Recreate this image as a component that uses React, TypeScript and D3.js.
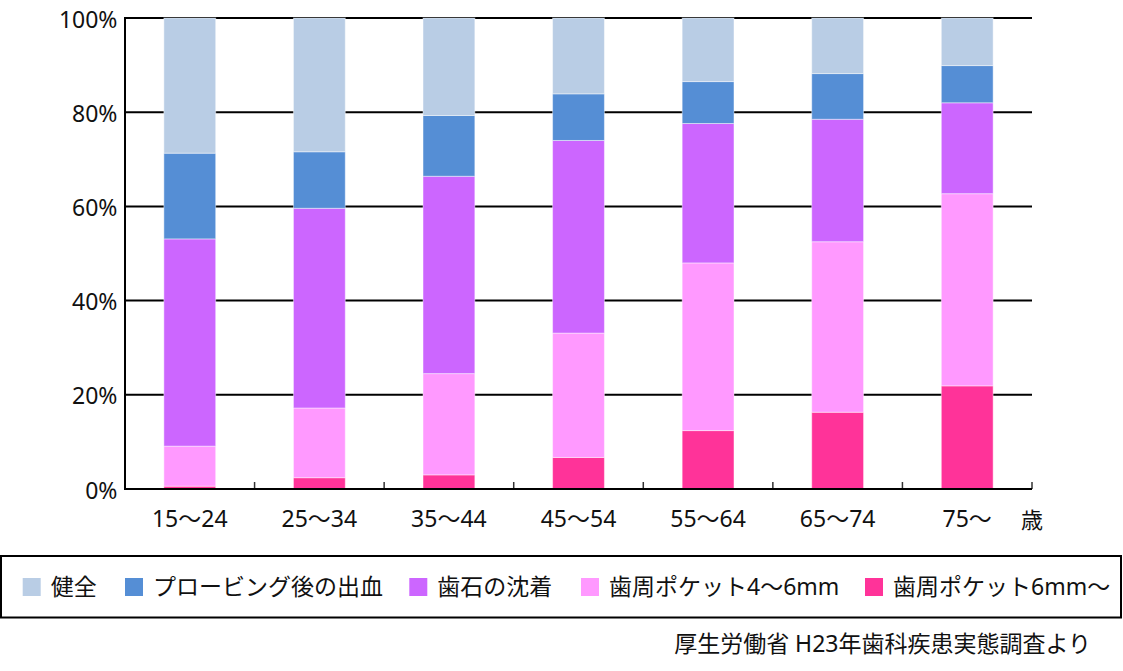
import React from "react";
import * as d3 from "d3";

const categories = ["15～24", "25～34", "35～44", "45～54", "55～64", "65～74", "75～"];
const seriesNames = ["歯周ポケット6mm～", "歯周ポケット4～6mm", "歯石の沈着", "プロービング後の出血", "健全"];
const pocket6 = [0.6, 2.4, 3.0, 6.7, 12.4, 16.3, 21.9];
const pocket4to6 = [8.5, 14.8, 21.5, 26.4, 35.6, 36.2, 40.8];
const calculus = [44.0, 42.4, 41.9, 40.9, 29.6, 26.0, 19.3];
const bleeding = [18.2, 12.0, 12.9, 9.9, 8.9, 9.7, 7.9];
const healthy = [28.7, 28.4, 20.7, 16.1, 13.5, 11.8, 10.1];
const seriesValues = [pocket6, pocket4to6, calculus, bleeding, healthy];
const seriesColors = ["#ff3399", "#ff99ff", "#cc66ff", "#558ed5", "#b9cde5"];
const yTicks = [0, 20, 40, 60, 80, 100];
const legendOrder = ["健全", "プロービング後の出血", "歯石の沈着", "歯周ポケット4～6mm", "歯周ポケット6mm～"];
const unitLabel = "歳";
const sourceText = "厚生労働省 H23年歯科疾患実態調査より";

const FONT = "'Noto Sans', 'Noto Sans CJK JP', sans-serif";

export default function App() {
  const W = 1123;
  const H = 671;
  const left = 125, right = 1032, top = 18, bottom = 489;

  const x = d3.scaleBand<string>().domain(categories).range([left, right]).paddingInner(0.6).paddingOuter(0.3);
  const y = d3.scaleLinear().domain([0, 100]).range([bottom, top]);

  const rows = categories.map((c, i) => {
    const r: any = { cat: c };
    seriesNames.forEach((s, k) => (r[s] = seriesValues[k][i]));
    return r;
  });
  const stacked = d3.stack<any>().keys(seriesNames)(rows);

  const step = x.step();
  const boundaries = d3.range(categories.length + 1).map((i) => left + i * step);

  const legendX = [22.7, 125, 409.3, 581, 865];

  return (
    <svg width={W} height={H} style={{ position: "absolute", left: 0, top: 0, background: "#fff" }} fontFamily={FONT}>
      <rect x={0} y={0} width={W} height={H} fill="#fff" />
      {/* gridlines */}
      {yTicks.map((t) => (
        <line key={"g" + t} x1={left} x2={right} y1={y(t)} y2={y(t)} stroke="#000" strokeWidth={2} />
      ))}
      {/* x ticks */}
      {boundaries.map((bx, i) => (
        <line key={"xt" + i} x1={bx} x2={bx} y1={bottom} y2={bottom - 7} stroke="#333" strokeWidth={1.5} />
      ))}
      {/* bars */}
      {stacked.map((layer, k) => (
        <g key={"s" + k}>
          {layer.map((d, i) => (
            <rect
              key={i}
              x={x(categories[i])!}
              width={x.bandwidth()}
              y={y(d[1])}
              height={y(d[0]) - y(d[1])}
              fill={seriesColors[k]}
              stroke="rgba(255,255,255,0.45)"
              strokeWidth={1}
            />
          ))}
        </g>
      ))}
      {/* axes */}
      <line x1={left} x2={left} y1={top - 1} y2={bottom + 1} stroke="#000" strokeWidth={2} />
      <line x1={left - 1} x2={right} y1={bottom} y2={bottom} stroke="#000" strokeWidth={2} />
      {/* y labels */}
      {yTicks.map((t) => (
        <text key={"yl" + t} x={117.5} y={y(t) + 9.5} textAnchor="end" fontSize={23} fill="#111">
          {t + "%"}
        </text>
      ))}
      {/* x labels */}
      {categories.map((c) => (
        <text key={"xl" + c} x={x(c)! + x.bandwidth() / 2} y={527} textAnchor="middle" fontSize={23} fill="#111">
          {c}
        </text>
      ))}
      <text x={right} y={528} textAnchor="middle" fontSize={22} fill="#111">
        {unitLabel}
      </text>
      {/* legend */}
      <rect x={1} y={556} width={1120} height={61.5} fill="none" stroke="#000" strokeWidth={2} />
      {legendOrder.map((name, i) => {
        const k = seriesNames.indexOf(name);
        return (
          <g key={"lg" + i}>
            <rect x={legendX[i]} y={578} width={18} height={18} fill={seriesColors[k]} />
            <text x={legendX[i] + 28} y={595} fontSize={23} fill="#111">
              {name}
            </text>
          </g>
        );
      })}
      {/* source */}
      <text x={1091} y={652} textAnchor="end" fontSize={23} fill="#111">
        {sourceText}
      </text>
    </svg>
  );
}
